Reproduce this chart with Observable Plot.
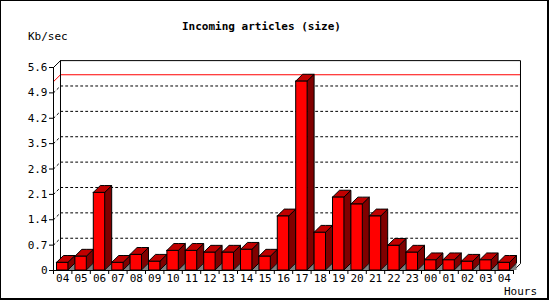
<!DOCTYPE html>
<html><head><meta charset="utf-8">
<script src="https://cdn.jsdelivr.net/npm/d3@7"></script>
<script src="https://cdn.jsdelivr.net/npm/@observablehq/plot@0.6"></script>
<style>
body{margin:0;background:#fff}
#wrap{position:relative;width:550px;height:300px;overflow:hidden;background:#fff}
#frame{position:absolute;left:0;top:0;width:546px;height:297px;border-left:1px solid #000;border-top:1px solid #000;border-right:2px solid #000;border-bottom:2px solid #000;pointer-events:none}
.lbl{position:absolute;font-family:"DejaVu Sans Mono",monospace;font-size:11px;line-height:13px;color:#000;white-space:nowrap}
#title{font-weight:bold;left:182px;top:20px}
#ylab{left:28px;top:30px}
#xlab{left:504px;top:285px}
</style></head>
<body>
<div id="wrap">
  <div id="chart"></div>
  <div id="frame"></div>
  <div class="lbl" id="title">Incoming articles (size)</div>
  <div class="lbl" id="ylab">Kb/sec</div>
  <div class="lbl" id="xlab">Hours</div>
</div>
<script>
// Data
const hours = ["04","05","06","07","08","09","10","11","12","13","14","15","16","17","18","19","20","21","22","23","00","01","02","03","04"];
const kbps = [0.21,0.38,2.14,0.21,0.43,0.24,0.54,0.54,0.49,0.49,0.57,0.38,1.49,5.21,1.04,2.01,1.82,1.49,0.68,0.49,0.28,0.28,0.24,0.28,0.21];
const yTicks = [0,0.7,1.4,2.1,2.8,3.5,4.2,4.9,5.6];
const gridVals = [0.7,1.4,2.1,2.8,3.5,4.2,4.9];

// 3D styling constants (in scale units)
const HW = 0.31, DX = 0.38, DY = 0.19;
const n = hours.length;
const yMax = yTicks[yTicks.length-1];

const bars = hours.map((h,i)=>({i, h, v: kbps[i], c: i+0.5}));
const front = bars.map(b=>({i:b.i, x1:b.c-HW, x2:b.c+HW, y1:0, y2:b.v}));
const sidePts = bars.flatMap(b=>[
  {z:b.i, x:b.c+HW, y1:0, y2:b.v},
  {z:b.i, x:b.c+HW+DX, y1:DY, y2:b.v+DY}]);
const topPts = bars.flatMap(b=>[
  {z:b.i, x:b.c-HW, y1:b.v, y2:b.v},
  {z:b.i, x:b.c-HW+DX, y1:b.v, y2:b.v+DY},
  {z:b.i, x:b.c+HW, y1:b.v, y2:b.v+DY},
  {z:b.i, x:b.c+HW+DX, y1:b.v+DY, y2:b.v+DY}]);
const shadowPts = bars.flatMap(b=>[
  {z:b.i, x:b.c+HW, y1:0, y2:0},
  {z:b.i, x:b.c+HW+DX, y1:0, y2:DY}]);
const gridPts = gridVals.flatMap(v=>[{v,x:0,y:v},{v,x:DX,y:v+DY},{v,x:n+DX,y:v+DY}]);
const maxV = d3.max(kbps);
const maxPts = [{x:0,y:maxV},{x:DX,y:maxV+DY},{x:n+DX,y:maxV+DY}];
const boxPts = [{x:0,y:yMax},{x:DX,y:yMax+DY},{x:n+DX,y:yMax+DY},{x:n+DX,y:DY},{x:n,y:0}];
const backLeft = [{x:DX,y:yMax+DY},{x:DX,y:DY}];

const chart = Plot.plot({
  width: 550, height: 300,
  marginLeft: 53, marginRight: 37, marginTop: 67, marginBottom: 30,
  style: {fontFamily: "DejaVu Sans Mono, monospace", fontSize: "11px", background: "white", color: "black"},
  x: {type: "linear", domain: [0, n]},
  y: {domain: [0, yMax]},
  marks: [
    Plot.line(gridPts, {x:"x", y:"y", z:"v", stroke:"black", strokeWidth:1, strokeDasharray:"2,3"}),
    Plot.line(maxPts, {x:"x", y:"y", stroke:"red", strokeWidth:1}),
    Plot.line(boxPts, {x:"x", y:"y", stroke:"black", strokeWidth:1}),
    Plot.line(backLeft, {x:"x", y:"y", stroke:"black", strokeWidth:1}),
    Plot.areaY(shadowPts, {x:"x", y1:"y1", y2:"y2", z:"z", fill:"#808080", curve:"linear"}),
    Plot.areaY(sidePts, {x:"x", y1:"y1", y2:"y2", z:"z", fill:"#800000", stroke:"black", strokeWidth:1, curve:"linear"}),
    Plot.areaY(topPts, {x:"x", y1:"y1", y2:"y2", z:"z", fill:"#c00000", stroke:"black", strokeWidth:1, curve:"linear"}),
    Plot.rect(front, {x1:"x1", x2:"x2", y1:"y1", y2:"y2", fill:"red", stroke:"black", strokeWidth:1}),
    Plot.ruleX([0], {y1:0, y2:yMax, stroke:"black"}),
    Plot.ruleY([0], {x1:0, x2:n, stroke:"black"}),
    Plot.axisY(yTicks, {tickSize:4, tickPadding:2, tickFormat: d => d === 0 ? "0" : d.toFixed(1)}),
    Plot.axisX(d3.range(n+1), {tickSize:4, tickFormat: () => ""}),
    Plot.axisX(bars.map(b=>b.c), {tickSize:0, tickPadding:4, tickFormat: d => hours[Math.floor(d)]})
  ]
});
document.getElementById("chart").appendChild(chart);
</script>
</body></html>
